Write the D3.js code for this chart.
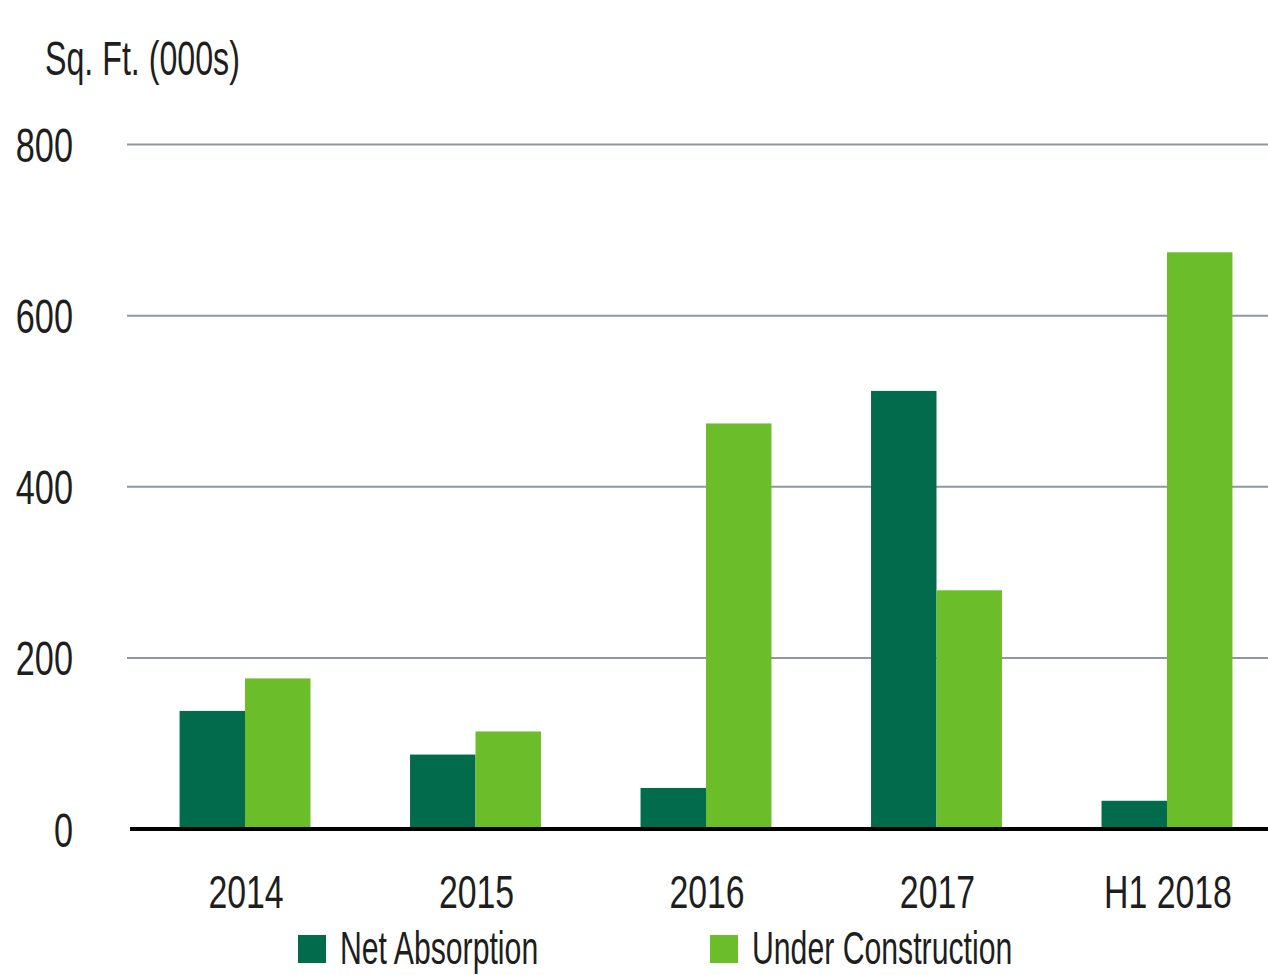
<!DOCTYPE html>
<html>
<head>
<meta charset="utf-8">
<script src="https://cdn.jsdelivr.net/npm/d3@7"></script>
<style>
  html, body { margin: 0; padding: 0; background: #ffffff; }
  svg { display: block; }
  text { font-family: "Liberation Sans", Arial, sans-serif; fill: #1e1e1e; }
</style>
</head>
<body>
<svg id="chart" width="1268" height="975"></svg>
<script>
const categories = ["2014", "2015", "2016", "2017", "H1 2018"];
const seriesNames = ["Net Absorption", "Under Construction"];
const netAbsorption = [138, 87, 48, 512, 33];
const underConstruction = [176, 114, 474, 279, 674];
const yTicks = [0, 200, 400, 600, 800];
const yTitle = "Sq. Ft. (000s)";
const colors = ["#016b4b", "#6bbd29"];

const svg = d3.select("#chart");
const W = 1268;

const y = d3.scaleLinear().domain([0, 800]).range([829, 144.5]);
const x0 = d3.scaleBand().domain(categories).range([130, 1282]).paddingInner(0.432).paddingOuter(0.215);
const x1 = d3.scaleBand().domain(seriesNames).range([0, x0.bandwidth()]).padding(0);
const color = d3.scaleOrdinal().domain(seriesNames).range(colors);

// place text at (px,py) with horizontal condensing factor f
function place(sel, px, py, f) {
  sel.attr("x", 0).attr("y", 0)
     .attr("transform", (d, i) => `translate(${px(d, i)},${py(d, i)}) scale(${f},1)`);
}

// gridlines
svg.append("g").selectAll("line")
  .data(yTicks.filter(t => t > 0))
  .join("line")
  .attr("x1", 127).attr("x2", W)
  .attr("y1", d => y(d)).attr("y2", d => y(d))
  .attr("stroke", "#8d989f").attr("stroke-width", 2);

// bars
const rows = categories.map((c, i) => ({ cat: c, vals: [netAbsorption[i], underConstruction[i]] }));
svg.append("g").selectAll("g")
  .data(rows)
  .join("g")
  .attr("transform", d => `translate(${x0(d.cat)},0)`)
  .selectAll("rect")
  .data(d => d.vals.map((v, k) => ({ key: seriesNames[k], v })))
  .join("rect")
  .attr("x", d => x1(d.key))
  .attr("width", x1.bandwidth())
  .attr("y", d => y(d.v))
  .attr("height", d => y(0) - y(d.v))
  .attr("fill", d => color(d.key));

// baseline axis
svg.append("line")
  .attr("x1", 130).attr("x2", W)
  .attr("y1", y(0)).attr("y2", y(0))
  .attr("stroke", "#000").attr("stroke-width", 4);

// y tick labels
svg.append("g").selectAll("text")
  .data(yTicks)
  .join("text")
  .attr("text-anchor", "end")
  .attr("font-size", 49)
  .text(d => d)
  .call(place, () => 73, d => y(d) + 17.5, 0.70);

// x labels
svg.append("g").selectAll("text")
  .data(categories)
  .join("text")
  .attr("text-anchor", "middle")
  .attr("font-size", 47)
  .text(d => d)
  .call(place, d => x0(d) + x0.bandwidth() / 2 + 1, () => 908, 0.72);

// y title
svg.append("text")
  .datum(yTitle)
  .attr("font-size", 49)
  .text(d => d)
  .call(place, () => 45, () => 75, 0.657);

// legend
const legendX = [298, 710];
const leg = svg.append("g").selectAll("g")
  .data(seriesNames)
  .join("g")
  .attr("transform", (d, i) => `translate(${legendX[i]},935)`);
leg.append("rect")
  .attr("width", 28).attr("height", 28)
  .attr("fill", d => color(d));
leg.append("text")
  .attr("font-size", 47)
  .text(d => d)
  .call(place, () => 42, () => 29, 0.643);
</script>
</body>
</html>
